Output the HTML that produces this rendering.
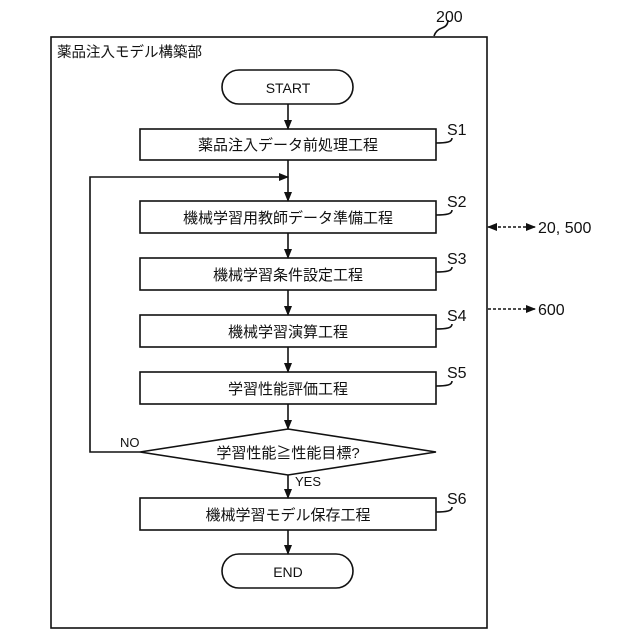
<!DOCTYPE html>
<html><head><meta charset="utf-8"><style>
html,body{margin:0;padding:0;background:#fff}
svg{display:block}
text{font-family:"Liberation Sans","Noto Sans CJK JP",sans-serif;fill:#111}
</style></head><body>
<svg width="640" height="640" viewBox="0 0 640 640" xmlns="http://www.w3.org/2000/svg">
<defs>
<marker id="a" markerWidth="10" markerHeight="8" refX="9" refY="4" orient="auto" markerUnits="userSpaceOnUse"><path d="M0,0 L10,4 L0,8 Z" fill="#111"/></marker>
<marker id="b" markerWidth="10" markerHeight="8" refX="1" refY="4" orient="auto" markerUnits="userSpaceOnUse"><path d="M10,0 L0,4 L10,8 Z" fill="#111"/></marker>
</defs>
<g stroke="#111" stroke-width="1.6" fill="none">
<rect x="51" y="37" width="436" height="591"/>
<path d="M434,36 q2,-6 8,-8 q6,-2 6,-8"/>
<rect x="222" y="70" width="131" height="34" rx="17"/>
<rect x="140" y="129" width="296" height="31"/>
<rect x="140" y="201" width="296" height="32"/>
<rect x="140" y="258" width="296" height="32"/>
<rect x="140" y="315" width="296" height="32"/>
<rect x="140" y="372" width="296" height="32"/>
<path d="M288,429 L436,452 L288,475 L140,452 Z"/>
<rect x="140" y="498" width="296" height="32"/>
<rect x="222" y="554" width="131" height="34" rx="17"/>
<line x1="288" y1="104" x2="288" y2="129" marker-end="url(#a)"/>
<line x1="288" y1="160" x2="288" y2="201" marker-end="url(#a)"/>
<line x1="288" y1="233" x2="288" y2="258" marker-end="url(#a)"/>
<line x1="288" y1="290" x2="288" y2="315" marker-end="url(#a)"/>
<line x1="288" y1="347" x2="288" y2="372" marker-end="url(#a)"/>
<line x1="288" y1="404" x2="288" y2="429" marker-end="url(#a)"/>
<line x1="288" y1="475" x2="288" y2="498" marker-end="url(#a)"/>
<line x1="288" y1="530" x2="288" y2="554" marker-end="url(#a)"/>
<polyline points="140,452 90,452 90,177 288,177" marker-end="url(#a)"/>
<path d="M436,143 q8,0 12,-1 q4,-1 4,-4"/>
<path d="M436,215 q8,0 12,-1 q4,-1 4,-4"/>
<path d="M436,272 q8,0 12,-1 q4,-1 4,-4"/>
<path d="M436,329 q8,0 12,-1 q4,-1 4,-4"/>
<path d="M436,386 q8,0 12,-1 q4,-1 4,-4"/>
<path d="M436,512 q8,0 12,-1 q4,-1 4,-4"/>
<line x1="488" y1="227" x2="535" y2="227" stroke-dasharray="3,2" marker-start="url(#b)" marker-end="url(#a)"/>
<line x1="488" y1="309" x2="535" y2="309" stroke-dasharray="3,2" marker-end="url(#a)"/>
</g>
<g font-size="15">
<text x="57" y="57" font-size="14.5">薬品注入モデル構築部</text>
<text x="436" y="22" font-size="16">200</text>
<text x="288" y="93" text-anchor="middle" font-size="14">START</text>
<text x="288" y="150" text-anchor="middle">薬品注入データ前処理工程</text>
<text x="288" y="223" text-anchor="middle">機械学習用教師データ準備工程</text>
<text x="288" y="280" text-anchor="middle">機械学習条件設定工程</text>
<text x="288" y="337" text-anchor="middle">機械学習演算工程</text>
<text x="288" y="394" text-anchor="middle">学習性能評価工程</text>
<text x="288" y="458" text-anchor="middle">学習性能≧性能目標?</text>
<text x="288" y="520" text-anchor="middle">機械学習モデル保存工程</text>
<text x="288" y="577" text-anchor="middle" font-size="14">END</text>
<text x="120" y="447" font-size="13">NO</text>
<text x="295" y="486" font-size="13">YES</text>
<g font-size="16">
<text x="447" y="135">S1</text>
<text x="447" y="207">S2</text>
<text x="447" y="264">S3</text>
<text x="447" y="321">S4</text>
<text x="447" y="378">S5</text>
<text x="447" y="504">S6</text>
<text x="538" y="233">20, 500</text>
<text x="538" y="315">600</text>
</g>
</g>
</svg>
</body></html>
